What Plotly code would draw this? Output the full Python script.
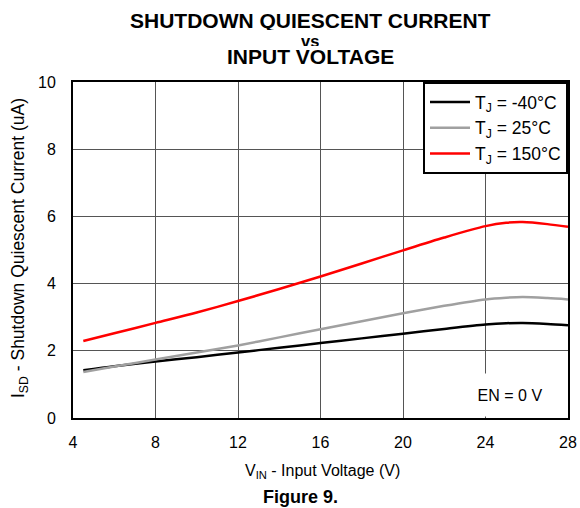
import plotly.graph_objects as go

vin = [4.5, 6, 8, 10, 12, 14, 16, 18, 20, 22, 24, 25, 25.8, 27, 28]
i_m40 = [1.42, 1.54, 1.68, 1.81, 1.95, 2.09, 2.23, 2.37, 2.51, 2.65, 2.78, 2.82, 2.83, 2.80, 2.76]
i_25 = [1.37, 1.53, 1.74, 1.95, 2.16, 2.40, 2.64, 2.88, 3.12, 3.34, 3.53, 3.58, 3.60, 3.57, 3.53]
i_150 = [2.29, 2.52, 2.83, 3.14, 3.48, 3.84, 4.21, 4.60, 4.99, 5.37, 5.71, 5.81, 5.83, 5.77, 5.69]

series = [
    ("T<sub>J</sub> = -40°C", i_m40, "#000000"),
    ("T<sub>J</sub> = 25°C", i_25, "#a0a0a0"),
    ("T<sub>J</sub> = 150°C", i_150, "#ff0000"),
]

x_ticks = [4, 8, 12, 16, 20, 24, 28]
y_ticks = [0, 2, 4, 6, 8, 10]

FONT = "Liberation Sans, Arial, sans-serif"

W, H = 580, 508
L, T, R, B = 73, 82, 12, 90
PW, PH = W - L - R, H - T - B


def px(xr):
    return (xr - L) / PW


def py(yr):
    return (H - B - yr) / PH


fig = go.Figure()
for name, ys, col in series:
    fig.add_trace(go.Scatter(x=vin, y=ys, mode="lines", name=name,
                             line=dict(color=col, width=2.5, shape="spline", smoothing=0.8)))

fig.update_layout(
    width=W, height=H,
    margin=dict(l=L, r=R, t=T, b=B, autoexpand=False),
    paper_bgcolor="white", plot_bgcolor="white",
    font=dict(family=FONT, size=16, color="black"),
    showlegend=True,
    legend=dict(x=1, xanchor="right", y=1, yanchor="top",
                bgcolor="white", bordercolor="black", borderwidth=2,
                font=dict(size=17.5), tracegroupgap=0, itemwidth=40,
                traceorder="normal"),
    xaxis=dict(range=[4, 28], tickvals=x_ticks, ticktext=[str(v) for v in x_ticks],
               showgrid=True, gridcolor="#555555", gridwidth=1,
               showline=True, linecolor="black", linewidth=2, mirror=True,
               zeroline=False, ticks="", ticklabelstandoff=9,
               tickfont=dict(size=16)),
    yaxis=dict(range=[0, 10], tickvals=y_ticks, ticktext=[str(v) for v in y_ticks],
               showgrid=True, gridcolor="#555555", gridwidth=1,
               showline=True, linecolor="black", linewidth=2, mirror=True,
               zeroline=False, ticks="", ticklabelstandoff=12,
               tickfont=dict(size=16)),
)

titles = [("SHUTDOWN QUIESCENT CURRENT", 19.5, 21, 20), ("vs", 40.5, 16.5, 10), ("INPUT VOLTAGE", 56.5, 21, 18)]
for txt, yp, fs, hh in titles:
    fig.add_annotation(text="<b>%s</b>" % txt, xref="paper", yref="paper",
                       x=px(310), y=py(yp), showarrow=False, height=hh,
                       xanchor="center", yanchor="middle",
                       font=dict(size=fs, family=FONT))

fig.add_annotation(text="V<sub>IN</sub> - Input Voltage (V)", xref="paper", yref="paper",
                   x=px(322), y=py(471), showarrow=False,
                   xanchor="center", yanchor="middle", font=dict(size=16, family=FONT))

fig.add_annotation(text="I<sub>SD</sub> - Shutdown Quiescent Current (uA)", xref="paper", yref="paper",
                   x=px(19), y=py(248), showarrow=False, textangle=-90,
                   xanchor="center", yanchor="middle", font=dict(size=17.5, family=FONT))

fig.add_annotation(text="<b>Figure 9.</b>", xref="paper", yref="paper",
                   x=px(300), y=py(497), showarrow=False,
                   xanchor="center", yanchor="middle", font=dict(size=18, family=FONT))

fig.add_annotation(text="EN = 0 V", xref="paper", yref="paper",
                   x=1, y=0, xanchor="right", yanchor="bottom", showarrow=False,
                   bgcolor="white", width=110, height=40, align="center",
                   xshift=-1, yshift=1,
                   font=dict(size=16, family=FONT))

# the page body has a default 8px margin; remove it so the 580x508 figure fills the window
fig.write_html("out.html", config={"displayModeBar": False},
               post_script="document.body.style.margin='0px';")
